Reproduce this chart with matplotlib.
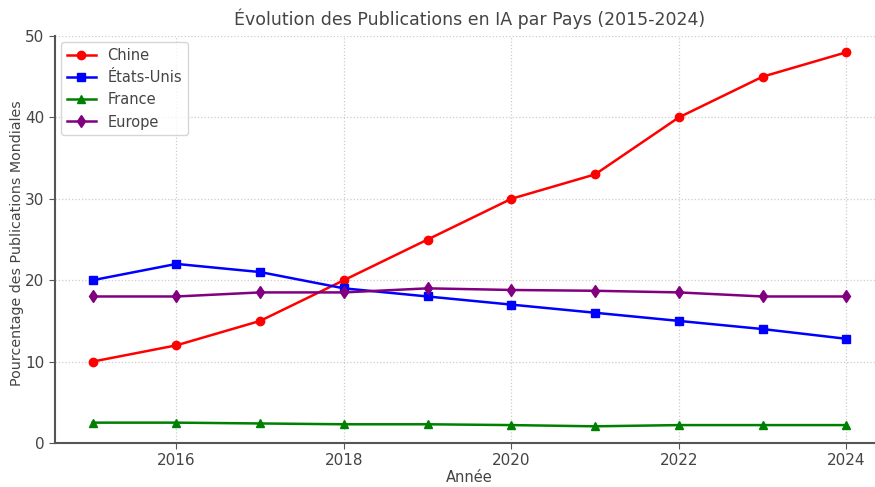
import numpy as np
import matplotlib
matplotlib.use('Agg')
import matplotlib.pyplot as plt

years = [2015, 2016, 2017, 2018, 2019, 2020, 2021, 2022, 2023, 2024]
chine = [10, 12, 15, 20, 25, 30, 33, 40, 45, 48]
etats_unis = [20, 22, 21, 19, 18, 17, 16, 15, 14, 12.8]
france = [2.5, 2.5, 2.4, 2.3, 2.3, 2.2, 2.05, 2.2, 2.2, 2.2]
europe = [18, 18, 18.5, 18.5, 19, 18.8, 18.7, 18.5, 18, 18]

text_col = '#444444'
plt.rcParams['font.family'] = 'DejaVu Sans'

fig = plt.figure(figsize=(8.75, 4.87), dpi=100)
ax = fig.add_axes([55/875, 44/487, 829/875, 407/487])

ax.plot(years, chine, color='red', marker='o', markersize=6, linewidth=1.8, label='Chine')
ax.plot(years, etats_unis, color='blue', marker='s', markersize=6, linewidth=1.8, label='États-Unis')
ax.plot(years, france, color='green', marker='^', markersize=6, linewidth=1.8, label='France')
ax.plot(years, europe, color='purple', marker='d', markersize=6, linewidth=1.8, label='Europe')

ax.set_xlim(2014.55, 2024.45)
ax.set_ylim(0, 50)
ax.set_xticks([2016, 2018, 2020, 2022, 2024])
ax.set_yticks([0, 10, 20, 30, 40, 50])
ax.grid(True, linestyle=':', color='#cccccc', linewidth=0.9)

for s in ['top', 'right']:
    ax.spines[s].set_visible(False)
for s in ['left', 'bottom']:
    ax.spines[s].set_color('#555555')
    ax.spines[s].set_linewidth(1.5)

ax.tick_params(colors=text_col, labelsize=11, length=4, color='#555555')
ax.set_title('Évolution des Publications en IA par Pays (2015-2024)', fontsize=12.5, color=text_col, pad=8)
ax.set_xlabel('Année', fontsize=10.5, color=text_col, labelpad=1)
ax.set_ylabel('Pourcentage des Publications Mondiales', fontsize=10.3, color=text_col)
ax.yaxis.set_label_coords(-0.037, 0.49)

leg = ax.legend(loc='upper left', fontsize=10.5, frameon=True, borderaxespad=0.4)
for t in leg.get_texts():
    t.set_color(text_col)

fig.savefig('out.png', dpi=100)
